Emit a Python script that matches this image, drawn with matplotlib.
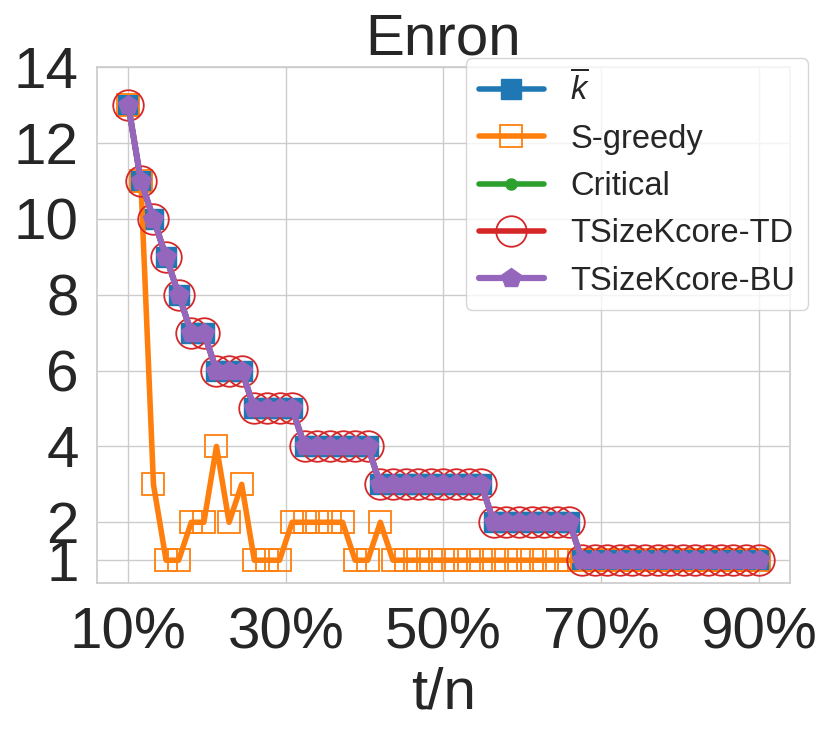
import numpy as np
import matplotlib
matplotlib.use("Agg")
import matplotlib.pyplot as plt
import seaborn as sns
from matplotlib.ticker import FuncFormatter

sns.set_theme(style="whitegrid")
plt.rcParams['font.family'] = ['Liberation Sans', 'DejaVu Sans']
plt.rcParams['mathtext.fontset'] = 'custom'
plt.rcParams['mathtext.it'] = 'Liberation Sans:italic'
plt.rcParams['mathtext.rm'] = 'Liberation Sans'

# t/n fractions, 51 samples from 10% to 90%
ratio = np.linspace(0.1, 0.9, 51)

# k-bar staircase (Critical and both TSizeKcore variants give the same values)
k_bar = [13, 11, 10, 9, 8, 7, 7, 6, 6, 6,
         5, 5, 5, 5, 4, 4, 4, 4, 4, 4,
         3, 3, 3, 3, 3, 3, 3, 3, 3, 2,
         2, 2, 2, 2, 2, 2, 1, 1, 1, 1,
         1, 1, 1, 1, 1, 1, 1, 1, 1, 1, 1]
critical = list(k_bar)
tsize_td = list(k_bar)
tsize_bu = list(k_bar)

s_greedy = [13, 11, 3, 1, 1, 2, 2, 4, 2, 3,
            1, 1, 1, 2, 2, 2, 2, 2, 1, 1,
            2, 1, 1, 1, 1, 1, 1, 1, 1, 1,
            1, 1, 1, 1, 1, 1, 1, 1, 1, 1,
            1, 1, 1, 1, 1, 1, 1, 1, 1, 1, 1]

xticks = [0.1, 0.3, 0.5, 0.7, 0.9]
yticks = [1, 2, 4, 6, 8, 10, 12, 14]

fig = plt.figure(figsize=(8.31, 7.3), dpi=100)
ax = fig.add_axes([0.1164, 0.2014, 0.8343, 0.7068])

lw = 4
ax.plot(ratio, k_bar, marker='s', ms=14.5, lw=lw, color='tab:blue', label=r'$\overline{k}$')
ax.plot(ratio, s_greedy, marker='s', ms=16.5, lw=lw, color='tab:orange',
        mfc='none', mew=1.3, label='S-greedy')
ax.plot(ratio, critical, marker='o', ms=8, lw=lw, color='tab:green', label='Critical')
ax.plot(ratio, tsize_td, marker='o', ms=22, lw=lw, color='tab:red',
        mfc='none', mew=1.3, label='TSizeKcore-TD')
ax.plot(ratio, tsize_bu, marker='p', ms=15, lw=4.5, color='tab:purple', label='TSizeKcore-BU')

ax.set_xlim(0.06, 0.94)
ax.set_ylim(0.4, 14)
ax.set_xticks(xticks)
ax.set_yticks(yticks)
ax.xaxis.set_major_formatter(FuncFormatter(lambda v, p: f"{v*100:.0f}%"))
ax.tick_params(axis='x', labelsize=42, pad=11)
ax.tick_params(axis='y', labelsize=42, pad=7)

ax.set_title("Enron", fontsize=42, pad=9)
ax.set_xlabel("t/n", fontsize=42, labelpad=4)

ax.legend(loc='upper right', bbox_to_anchor=(1.026, 1.017), borderaxespad=0,
          fontsize=23.5)

fig.savefig("out.png", dpi=100)
